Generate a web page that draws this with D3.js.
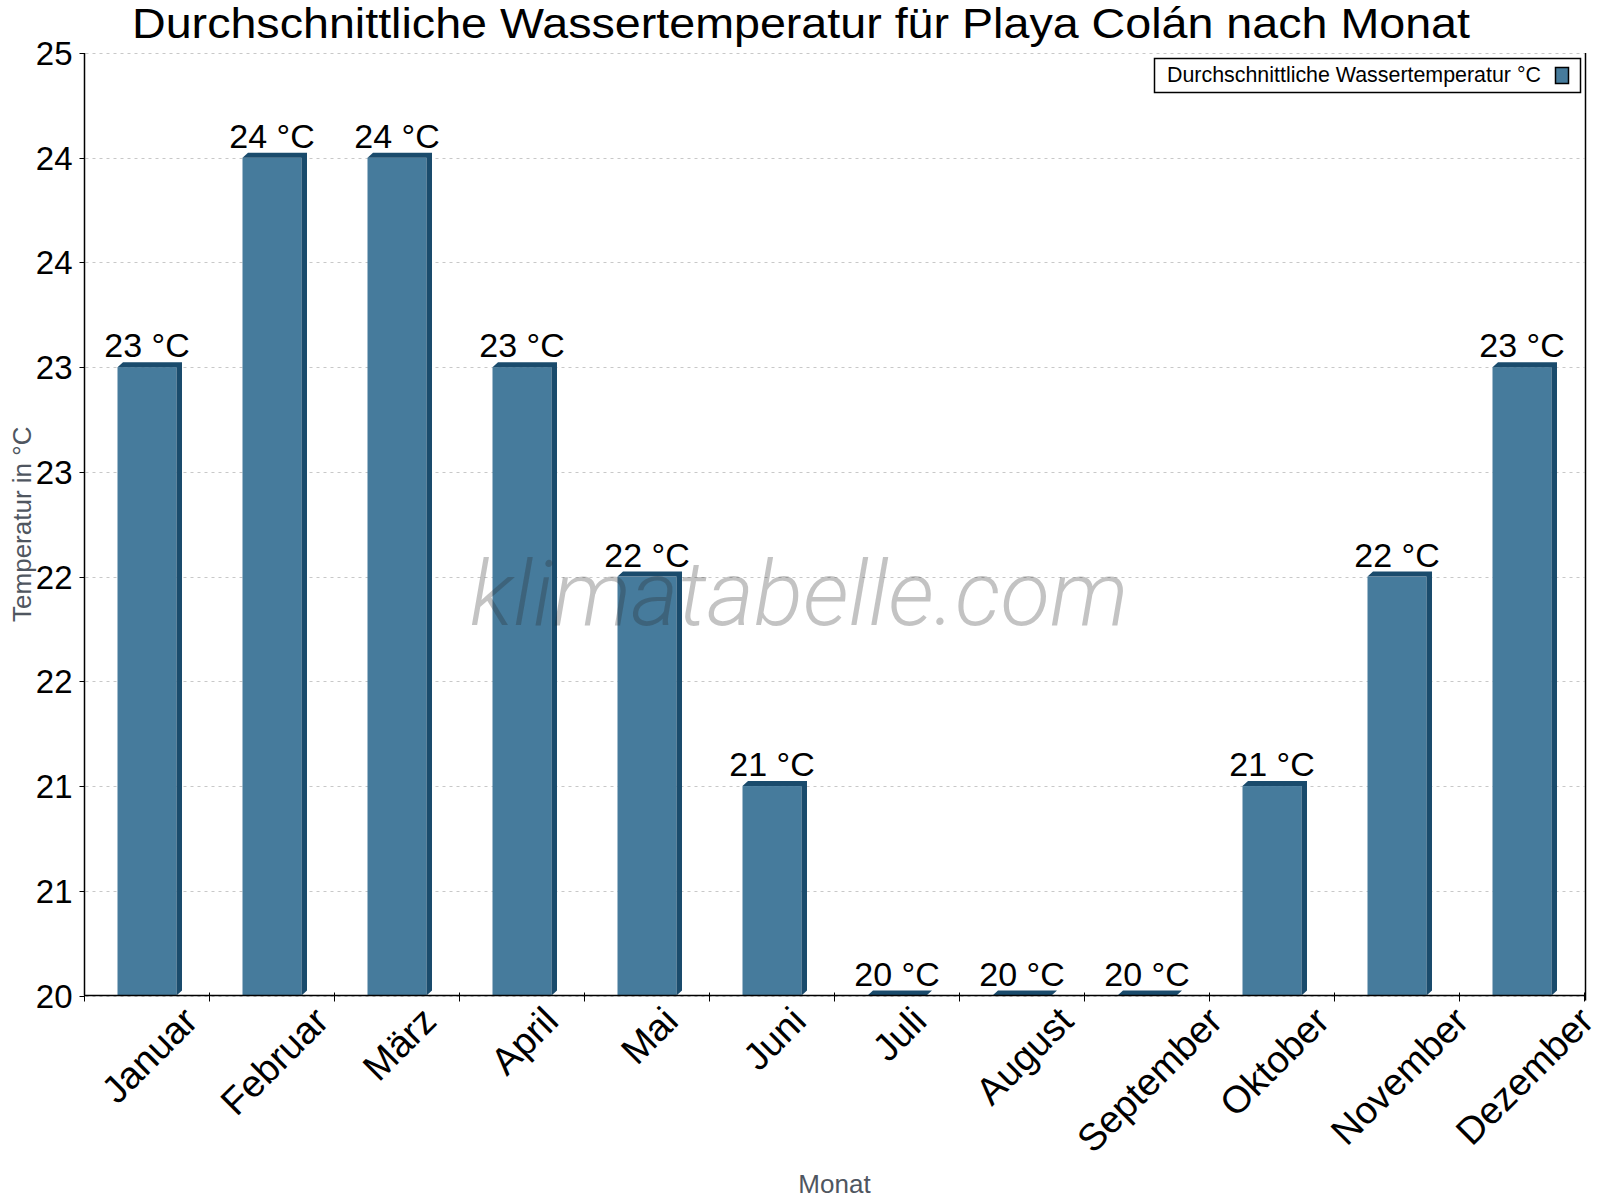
<!DOCTYPE html>
<html>
<head>
    <title>Durchschnittliche Wassertemperatur Playa Colán</title>
    <script src="https://d3js.org/d3.v7.min.js"></script>
    <style>
        body { margin: 0; background: #fff; }
        svg text { font-family: "Liberation Sans", Arial, sans-serif; }
    </style>
</head>
<body>
    <div id="chart"></div>

    <script>
        // data
        const months = ["Januar", "Februar", "März", "April", "Mai", "Juni", "Juli",
                        "August", "September", "Oktober", "November", "Dezember"];
        const waterTemp = [23, 24, 24, 23, 22, 21, 20, 20, 20, 21, 22, 23];
        const yTicks = [20, 20.5, 21, 21.5, 22, 22.5, 23, 23.5, 24, 24.5];
        const yTickLabels = ["20", "21", "21", "22", "22", "23", "23", "24", "24", "25"];

        const width = 1600;
        const height = 1200;
        const plotLeft = 84.5, plotRight = 1584.5, plotTop = 53, plotBottom = 995.5;
        const depthX = 5.5, depthY = -5; // fake 3d offset

        const frontColor = "#467b9c";
        const darkColor = "#1a4b6c";

        const svg = d3.select("#chart")
            .append("svg")
            .attr("width", width)
            .attr("height", height);

        const x = d3.scaleBand()
            .domain(months)
            .range([plotLeft, plotRight]);

        const y = d3.scaleLinear()
            .domain([20, 24.5])
            .range([plotBottom, plotTop]);

        const barW = x.bandwidth() * 0.472;

        // dotted grid
        svg.append("g")
            .selectAll("line")
            .data(yTicks)
            .enter()
            .append("line")
            .attr("x1", plotLeft + 1)
            .attr("x2", plotRight)
            .attr("y1", (d) => Math.round(y(d)) + 0.5)
            .attr("y2", (d) => Math.round(y(d)) + 0.5)
            .attr("stroke", "#c8c8c8")
            .attr("stroke-dasharray", "3,4");

        // bars: front, top face, side face
        const bars = svg.append("g")
            .selectAll("g")
            .data(months.map((m, i) => ({ month: m, value: waterTemp[i] })))
            .enter()
            .append("g");

        bars.append("rect")
            .attr("x", (d) => x(d.month) + (x.bandwidth() - barW) / 2)
            .attr("y", (d) => y(d.value))
            .attr("width", barW)
            .attr("height", (d) => y(20) - y(d.value))
            .attr("fill", frontColor);

        bars.append("path")
            .attr("fill", darkColor)
            .attr("d", (d) => {
                const x0 = x(d.month) + (x.bandwidth() - barW) / 2;
                const x1 = x0 + barW;
                const t = y(d.value);
                const b = y(20);
                return `M${x0},${t}L${x0 + depthX},${t + depthY}L${x1 + depthX},${t + depthY}L${x1},${t}Z` +
                       `M${x1},${t}L${x1 + depthX},${t + depthY}L${x1 + depthX},${b + depthY}L${x1},${b}Z`;
            });

        // value labels
        bars.append("text")
            .attr("x", (d) => x(d.month) + x.bandwidth() / 2)
            .attr("y", (d) => y(d.value) - 10)
            .attr("text-anchor", "middle")
            .attr("font-size", 34)
            .attr("fill", "#000")
            .text((d) => `${d.value} °C`);

        // left axis
        const yAxis = svg.append("g");
        yAxis.append("line")
            .attr("x1", plotLeft).attr("x2", plotLeft)
            .attr("y1", plotTop).attr("y2", plotBottom)
            .attr("stroke", "#000").attr("stroke-width", 1.5);
        yAxis.selectAll(".ytick")
            .data(yTicks)
            .enter()
            .append("line")
            .attr("x1", plotLeft - 5).attr("x2", plotLeft)
            .attr("y1", (d) => Math.round(y(d)) + 0.5)
            .attr("y2", (d) => Math.round(y(d)) + 0.5)
            .attr("stroke", "#000");
        yAxis.selectAll(".ylabel")
            .data(yTicks)
            .enter()
            .append("text")
            .attr("x", plotLeft - 12)
            .attr("y", (d) => y(d) + 12)
            .attr("text-anchor", "end")
            .attr("font-size", 33)
            .text((d, i) => yTickLabels[i]);

        // right border line
        svg.append("line")
            .attr("x1", plotRight + 1).attr("x2", plotRight + 1)
            .attr("y1", plotTop).attr("y2", plotBottom + 5)
            .attr("stroke", "#000").attr("stroke-width", 1.5);

        // bottom axis
        const xAxis = svg.append("g");
        xAxis.append("line")
            .attr("x1", plotLeft).attr("x2", plotRight + 1)
            .attr("y1", plotBottom).attr("y2", plotBottom)
            .attr("stroke", "#000").attr("stroke-width", 1.5);
        xAxis.selectAll(".xtick")
            .data(months.concat(["end"]))
            .enter()
            .append("line")
            .attr("x1", (d, i) => plotLeft + i * x.step())
            .attr("x2", (d, i) => plotLeft + i * x.step())
            .attr("y1", plotBottom - 3).attr("y2", plotBottom + 6)
            .attr("stroke", "#000");

        // rotated month labels: box centred on the band, top just under the axis
        const xFont = 38;
        const xLabels = xAxis.selectAll(".xlabel")
            .data(months)
            .enter()
            .append("text")
            .attr("text-anchor", "middle")
            .attr("font-size", xFont)
            .text((d) => d);
        xLabels.attr("transform", function(d) {
            const len = this.getComputedTextLength();
            const cap = xFont * 0.716;
            const cx = x(d) + x.bandwidth() / 2 + 2 + 0.354 * cap;
            const cy = 1004 + 0.707 * cap + 0.354 * len;
            return `translate(${cx},${cy}) rotate(-45)`;
        });

        // axis titles
        svg.append("text")
            .attr("transform", `translate(31,${(plotTop + plotBottom) / 2}) rotate(-90)`)
            .attr("text-anchor", "middle")
            .attr("font-size", 26)
            .attr("fill", "#4f5660")
            .text("Temperatur in °C");

        svg.append("text")
            .attr("x", (plotLeft + plotRight) / 2)
            .attr("y", 1193)
            .attr("text-anchor", "middle")
            .attr("font-size", 26)
            .attr("fill", "#4f5660")
            .text("Monat");

        // title (the original font is a little wider than Liberation Sans)
        svg.append("text")
            .attr("x", 801)
            .attr("y", 38)
            .attr("text-anchor", "middle")
            .attr("font-size", 42)
            .attr("textLength", 1338)
            .attr("lengthAdjust", "spacingAndGlyphs")
            .text("Durchschnittliche Wassertemperatur für Playa Colán nach Monat");

        // legend
        const legend = svg.append("g");
        legend.append("rect")
            .attr("x", 1154.5).attr("y", 58.5)
            .attr("width", 426).attr("height", 34)
            .attr("fill", "#fff").attr("stroke", "#000").attr("stroke-width", 1.5);
        legend.append("text")
            .attr("x", 1167).attr("y", 81.5)
            .attr("font-size", 21.4)
            .text("Durchschnittliche Wassertemperatur °C");
        legend.append("rect")
            .attr("x", 1555.5).attr("y", 67.5)
            .attr("width", 13).attr("height", 16)
            .attr("fill", frontColor).attr("stroke", "#000").attr("stroke-width", 1.5);

        // watermark
        svg.append("text")
            .attr("x", 799)
            .attr("y", 625)
            .attr("text-anchor", "middle")
            .attr("font-size", 91)
            .attr("font-style", "italic")
            .attr("font-weight", 300)
            .style("font-family", "Roboto, 'Open Sans', sans-serif")
            .attr("fill", "rgba(40,40,40,0.28)")
            .text("klimatabelle.com");
    </script>
</body>
</html>
